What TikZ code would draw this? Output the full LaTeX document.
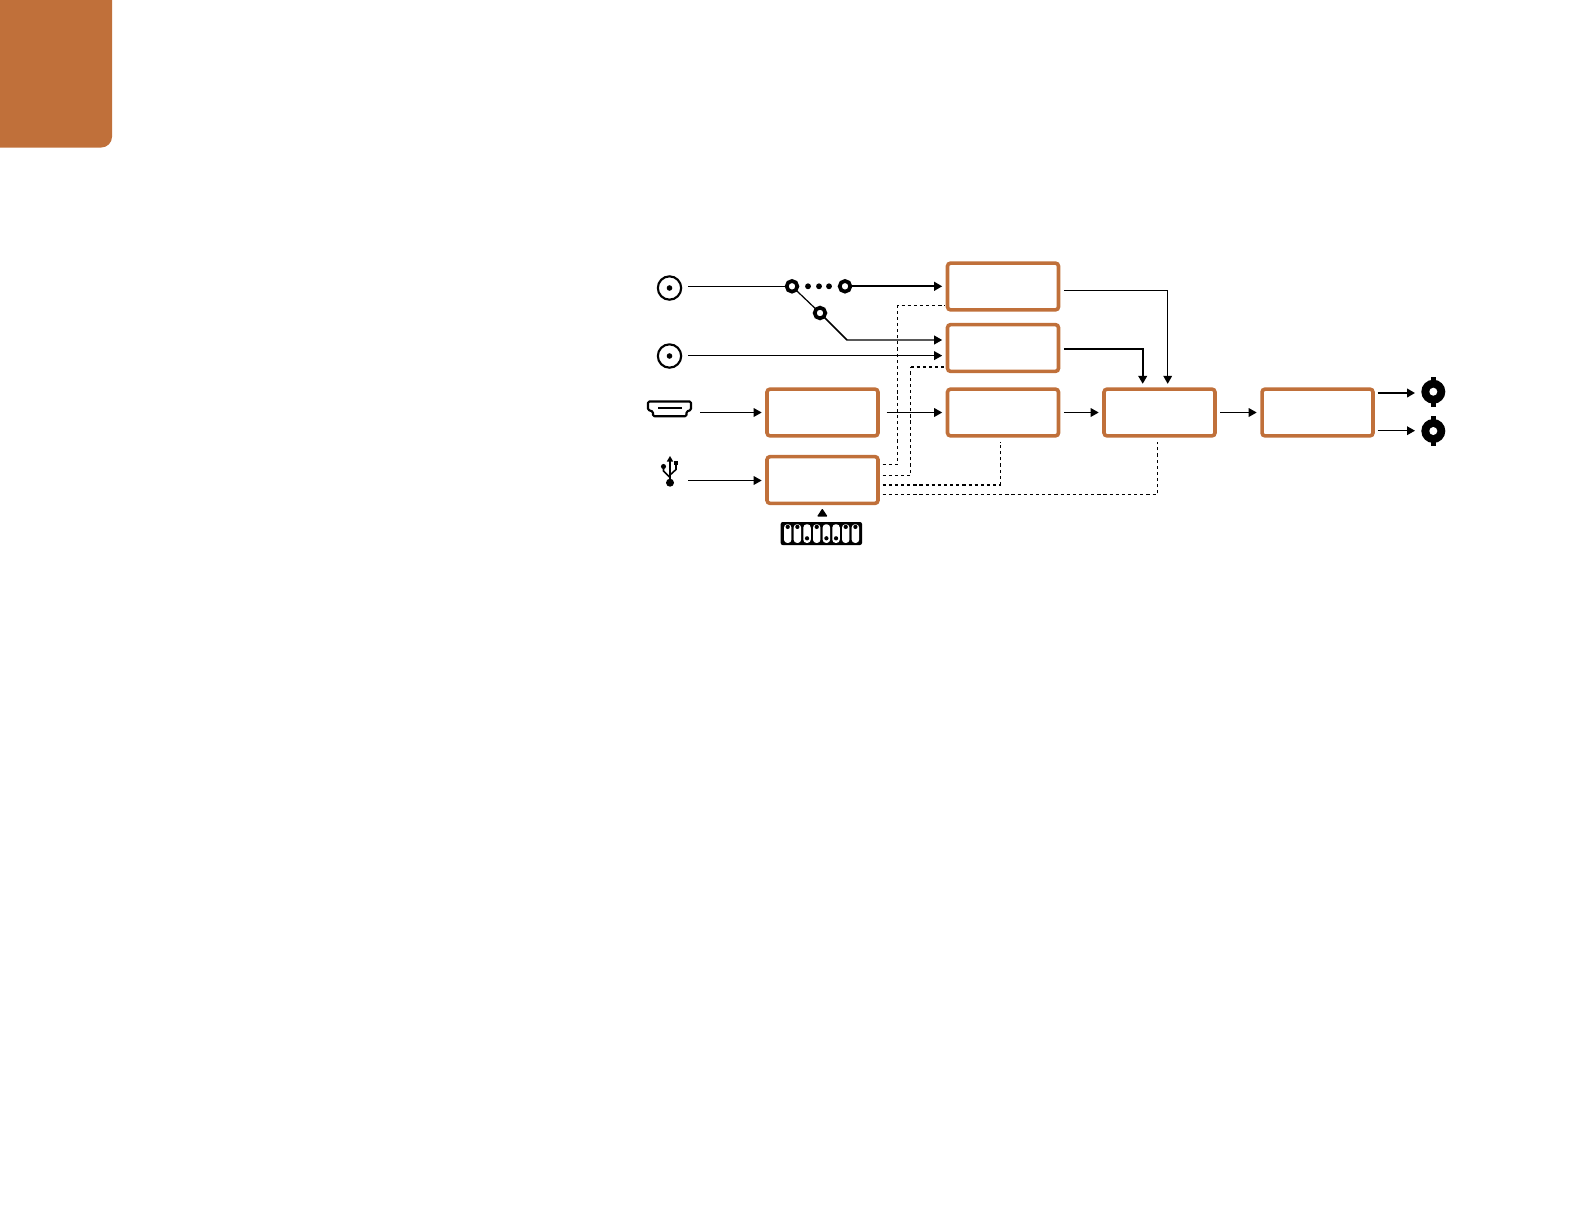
\documentclass[tikz,border=0pt]{standalone}
\usepackage{tikz}
\usetikzlibrary{positioning,arrows.meta,calc}
\definecolor{tabcolor}{HTML}{C0703A}
\tikzset{
  block/.style={draw=tabcolor, line width=2.7pt, rounded corners=2.2pt, minimum width=83.2pt, minimum height=35pt, inner sep=0pt, outer sep=0pt},
  ringsmall/.style={circle, draw=black, line width=2.8pt, minimum size=8pt, inner sep=0pt, outer sep=0pt},
  portring/.style={circle, draw=black, line width=1.6pt, minimum size=17.5pt, inner sep=0pt, outer sep=0pt},
  bigdot/.style={circle, fill=black, minimum size=#1, inner sep=0pt, outer sep=0pt},
  wire/.style={line width=0.9pt, -{Triangle[length=6pt,width=6.5pt]}},
  boldwire/.style={wire, line width=1.4pt},
  ctrl/.style={line width=0.8pt, dash pattern=on 2.4pt off 2.2pt},
  boldctrl/.style={ctrl, line width=1.3pt},
  gap/.style={shorten <=4pt, shorten >=4pt},
}
\begin{document}
\begin{tikzpicture}[x=0.75pt, y=-0.75pt]
\useasboundingbox (0,0) rectangle (1584,1224);
\fill[tabcolor] (-20,-20) [rounded corners=8pt] -- (-20,147.5) -- (112,147.5) [sharp corners] -- (112,-20) -- cycle;

\node[block] (prefirst) at (1003,286.5) {};
\node[block] (presecond) at (1003,348) {};
\node[block] (conv) at (1003,412.5) {};
\node[block] (mixer) at (1159.5,412.5) {};
\node[block] (output) at (1317.5,412.5) {};
\node[block] (hdmiin) at (822.5,412.5) {};
\node[block] (control) at (822.5,480) {};

\node[portring] (portA) at (669.5,288) {};
\node[portring] (portB) at (669.5,356) {};
\node[bigdot=4.2pt] at (portA) {};
\node[bigdot=4.2pt] at (portB) {};
\node[ringsmall] (swin) at (792,286.3) {};
\node[ringsmall] (swmid) at (820,313) {};
\node[ringsmall] (swend) at (845,286.3) {};
\foreach \x in {808,819,829} \node[bigdot=4.4pt] at (\x,286.3) {};

\coordinate (portAout) at (688,286.3);
\coordinate (portBout) at (688,355.6);
\coordinate (bendmid) at (847,340);
\coordinate (hdmiout) at (700,412.5);
\coordinate (usbout) at (688,480.5);

\draw[line width=0.9pt] (portAout) -- (swin);
\draw[boldwire, shorten >=4pt] (swend) -- (prefirst.west |- swend);
\draw[line width=0.9pt] (swin) -- (swmid);
\draw[wire, shorten >=4pt, line width=1.1pt] (swmid) -- (bendmid) -- (presecond.west |- bendmid);
\draw[wire, shorten >=4pt] (portBout) -- (presecond.west |- portBout);
\draw[wire, shorten >=4pt] (hdmiout) -- (hdmiin.west |- hdmiout);
\draw[wire, shorten >=4pt] (usbout) -- (control.west |- usbout);
\draw[wire, gap, shorten <=6.5pt] (hdmiin) -- (conv);
\draw[wire, gap] (conv) -- (mixer);
\draw[wire, gap] (mixer) -- (output);

\coordinate (firstout) at ($(prefirst.east)+(0,-3pt)$);
\coordinate (secondout) at ($(presecond.east)+(0,-0.7pt)$);
\draw[wire, gap] (firstout) -| (mixer.north -| 1167.7,0);
\draw[boldwire, gap] (secondout) -| (mixer.north -| 1142.7,0);

\coordinate (ctrlA) at (control.east |- 0,464.5);
\coordinate (ctrlB) at (control.east |- 0,475.5);
\coordinate (ctrlC) at (control.east |- 0,485);
\coordinate (ctrlD) at (control.east |- 0,494.5);
\draw[ctrl, shorten <=3.5pt] (ctrlA) -- (897.5,464.5) -- (897.5,305.5) -- (945,305.5);
\draw[ctrl, shorten <=3.5pt] (ctrlB) -- (910.5,475.5) -- (910.5,366.7);
\draw[boldctrl] (910.5,366.7) -- (945,366.7);
\draw[boldctrl, shorten <=3.5pt] (ctrlC) -- (1000.5,485);
\draw[ctrl] (1000.5,485) -- (1000.5,441.7);
\draw[ctrl, shorten <=3.5pt] (ctrlD) -- (1157.5,494.5) -- (1157.5,442);

\foreach \name/\y in {bncA/391.7, bncB/431} {
  \node[bigdot=18pt] (\name) at (1433.3,\y) {};
  \fill (1433.3,\y) ++(-2.4,-15) rectangle ++(4.8,30);
  \fill[white] (1433.3,\y) circle (3pt);
}
\coordinate (outA) at (output.east |- 0,393);
\coordinate (outB) at (output.east |- 0,430.7);
\draw[boldwire, shorten <=3.5pt] (outA) -- (1415,393);
\draw[wire, shorten <=3.5pt] (outB) -- (1415,430.7);

\draw[line width=1.6pt, line join=round, rounded corners=1pt] (648,401.5) -- (691,401.5) -- (691,410) -- (686.5,411.5) -- (686.5,416.2) -- (653,416.2) -- (653,411.5) -- (648,410) -- cycle;
\draw[line width=1.7pt] (658,408) -- (682,408);

\draw[line width=1.2pt] (670,460) -- (670,482);
\fill (670,456) -- (666.8,461.5) -- (673.2,461.5) -- cycle;
\draw[line width=1.2pt] (670,477.5) -- (663.5,471) -- (663.5,466);
\draw[line width=1.2pt] (670,475) -- (676,469.5) -- (676,463);
\fill (663.5,466.5) circle (1.9pt);
\fill (673.8,461) rectangle (678.2,465.4);
\node[bigdot=6pt] (usbdot) at (670,482.7) {};

\fill[rounded corners=0.6pt] (817,516.5) -- (822.3,508.5) -- (827.6,516.5) -- cycle;
\fill[rounded corners=1.5pt] (780.7,522) rectangle (862,545);
\foreach \n/\dy in {0/526.9,1/526.9,2/538.3,3/526.9,4/538.3,5/538.3,6/526.9,7/526.9} {
  \fill[white, rounded corners=2.4pt] (784+\n*9.67,524.3) rectangle ++(7.4,18.6);
  \fill (787.7+\n*9.67,\dy) circle (1.6pt);
}
\end{tikzpicture}
\end{document}
